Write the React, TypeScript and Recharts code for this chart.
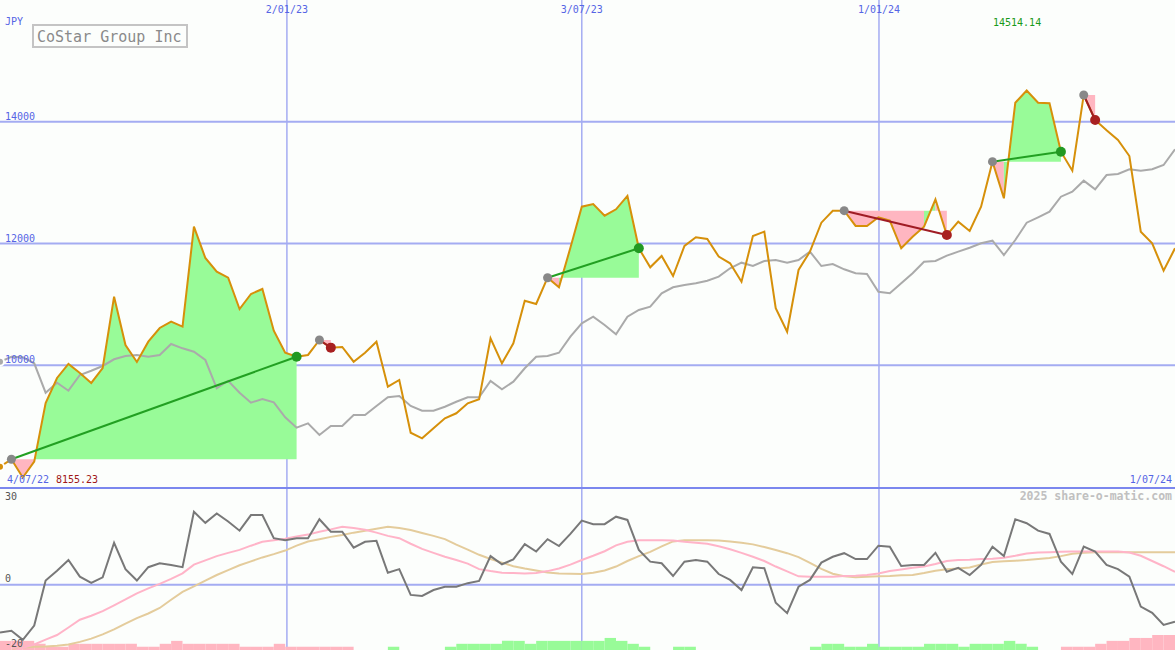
import React from "react";
import {
  ComposedChart,
  Line,
  Area,
  Bar,
  Cell,
  XAxis,
  YAxis,
  CartesianGrid,
  ReferenceLine,
  ReferenceDot,
} from "recharts";

// weekly closes, JPY
const price = [
  8333, 8455, 8155.23, 8416, 9380, 9791, 10021, 9873, 9709, 9955,
  11126, 10333, 10054, 10387, 10612, 10716, 10634, 12277, 11762, 11537,
  11439, 10924, 11171, 11253, 10568, 10206, 10140, 10169, 10415, 10289,
  10300, 10058, 10206, 10387, 9648, 9758, 8892, 8800, 8964, 9129,
  9211, 9375, 9441, 10443, 10032, 10361, 11060, 11006, 11438, 11281,
  11930, 12605, 12649, 12457, 12562, 12781, 11921, 11609, 11795, 11466,
  11959, 12102, 12075, 11786, 11675, 11373, 12124, 12195, 10936, 10551,
  11565, 11866, 12342, 12539, 12539, 12288, 12288, 12431, 12375, 11921,
  12112, 12276, 12726, 12140, 12358, 12205, 12605, 13344, 12743, 14313,
  14514.14, 14313, 14303, 13508, 13196, 14440, 14029, 13860, 13700, 13437,
  12194, 12003, 11553, 11921,
];

// moving average (grey)
const average = [
  10058, 10140, 10131, 10032, 9549, 9713, 9582, 9840, 9910, 9988,
  10098, 10152, 10168, 10140, 10168, 10349, 10278, 10222, 10086, 9621,
  9746, 9549, 9385, 9446, 9391, 9145, 8974, 9046, 8854, 9002,
  9002, 9183, 9183, 9331, 9474, 9495, 9331, 9253, 9253, 9319,
  9401, 9474, 9474, 9741, 9605, 9730, 9950, 10140, 10152, 10206,
  10469, 10689, 10797, 10661, 10508, 10797, 10908, 10962, 11182, 11281,
  11318, 11346, 11389, 11455, 11593, 11685, 11630, 11713, 11729, 11685,
  11729, 11866, 11630, 11663, 11576, 11511, 11499, 11208, 11182, 11346,
  11511, 11701, 11713, 11800, 11866, 11931, 12003, 12046, 11811, 12057,
  12342, 12430, 12522, 12769, 12851, 13032, 12890, 13125, 13142, 13219,
  13196, 13219, 13290, 13547,
];

// lower panel
const momentum = [
  -14.6, -14.1, -16.9, -12.5, 1.3, 4.3, 7.6, 2.5, 0.6, 2.3,
  12.9, 4.8, 1.3, 5.4, 6.6, 6.1, 5.4, 22.4, 19.0, 21.9,
  19.4, 16.6, 21.4, 21.4, 14.3, 13.7, 14.3, 14.3, 20.1, 16.3,
  16.3, 11.4, 13.2, 13.5, 3.7, 4.8, -3.1, -3.4, -1.6, -0.6,
  -0.6, 0.5, 1.2, 8.8, 6.3, 7.8, 12.5, 10.2, 14.0, 11.9,
  15.6, 19.7, 18.6, 18.6, 20.9, 19.9, 10.7, 7.1, 6.6, 2.7,
  7.1, 7.6, 7.1, 3.3, 1.5, -1.6, 5.4, 5.1, -5.5, -8.7,
  -0.6, 1.5, 6.8, 8.6, 9.7, 7.9, 7.9, 12.0, 11.7, 5.8,
  6.1, 6.1, 9.8, 4.0, 5.2, 3.0, 6.1, 11.7, 8.8, 20.1,
  18.9, 16.6, 15.6, 7.1, 3.3, 11.7, 10.2, 6.1, 4.8, 2.5,
  -6.7, -8.6, -12.3, -11.3,
];

const fastSignal = [
  -22, -20.5, -19.3, -18.3, -16.8, -15.4, -13.1, -10.7, -9.5, -8.1,
  -6.3, -4.5, -2.6, -1.1, 0.3, 1.8, 3.5, 6.2, 7.5, 8.8,
  9.8, 10.7, 12.0, 13.2, 13.7, 14.1, 14.8, 15.4, 16.3, 17.0,
  17.8, 17.4, 16.9, 16.0, 15.0, 14.3, 12.6, 11.0, 9.8, 8.6,
  7.6, 6.5, 4.8, 4.2, 3.7, 3.6, 3.5, 3.6, 4.2, 5.0,
  6.2, 7.6, 8.9, 10.3, 12.1, 13.2, 13.7, 13.7, 13.7, 13.6,
  13.2, 12.9, 12.6, 11.8, 10.9, 9.8, 8.6, 7.3, 5.6, 4.1,
  2.6, 2.5, 2.5, 2.5, 2.7, 2.8, 3.0, 3.5, 4.2, 4.7,
  5.2, 5.6, 6.4, 7.3, 7.6, 7.7, 7.9, 8.0, 8.3, 8.9,
  9.6, 9.9, 10.0, 10.1, 10.2, 10.2, 10.2, 10.2, 10.2, 9.9,
  8.9, 7.3, 5.7, 4.0,
];

const slowSignal = [
  -21, -20.3, -19.2, -19.0, -18.9, -18.7, -18.3, -17.5, -16.5, -15.2,
  -13.7, -11.9, -10.2, -8.8, -7.1, -4.6, -2.2, -0.5, 1.3, 3.0,
  4.5, 6.0, 7.2, 8.4, 9.4, 10.5, 12.0, 13.3, 14.0, 14.7,
  15.3, 16.0, 16.6, 17.2, 17.8, 17.4, 16.8, 15.9, 15.0, 14.0,
  12.3, 10.8, 9.2, 7.9, 6.8, 5.7, 5.0, 4.4, 3.8, 3.5,
  3.4, 3.3, 3.7, 4.4, 5.6, 7.3, 8.8, 10.1, 11.8, 13.3,
  13.7, 13.7, 13.7, 13.6, 13.3, 12.9, 12.4, 11.6, 10.7, 9.7,
  8.5, 6.7, 4.9, 3.4, 2.6, 2.3, 2.5, 2.6, 2.7, 2.9,
  3.0, 3.6, 4.3, 4.8, 5.0, 5.3, 6.2, 7.0, 7.2, 7.4,
  7.6, 7.9, 8.2, 8.8, 9.5, 9.8, 10.0, 10.0, 10.0, 10.0,
  10.0, 10.0, 10.0, 10.0,
];

// histogram along the bottom: + green, - pink, 0 none
const histogram = [
  -2.8, -2.8, -2.8, -1.9, -1, -1, -1.9, -1.9, -1.9, -1.9,
  -1.9, -1.9, -1, -1, -1.9, -2.8, -1.9, -1.9, -1.9, -1.9,
  -1.9, -1, -1, -1, -1.9, -1, -1, -1, -1, -1,
  -1, 0, 0, 0, 1, 0, 0, 0, 0, 1,
  1.9, 1.9, 1.9, 1.9, 2.8, 2.8, 1.9, 2.8, 2.8, 2.8,
  2.8, 2.8, 2.8, 3.7, 2.8, 1.9, 1, 0, 0, 1,
  1, 0, 0, 0, 0, 0, 0, 0, 0, 0,
  0, 1, 1.9, 1.9, 1, 1, 1.9, 1, 1, 1,
  1, 1.9, 1.9, 1.9, 1, 1.9, 1.9, 1.9, 2.8, 1.9,
  1, 0, 0, -1, -1, -1, -1.9, -2.8, -2.8, -3.7,
  -3.7, -4.6, -4.6, -4.6,
];

// signals: entry week -> exit week
const trades = [
  { from: 1, to: 26 },
  { from: 28, to: 29 },
  { from: 48, to: 56 },
  { from: 74, to: 83 },
  { from: 87, to: 93 },
  { from: 95, to: 96 },
];

const dateTicks = [25.15, 51, 77.05];
const dateLabels = ["2/01/23", "3/07/23", "1/01/24"];
const priceTicks = [10000, 12000, 14000];
const signalTicks = [0];
const firstDate = "4/07/22";
const lastDate = "1/07/24";

const W = 1175;
const LAST = price.length - 1;
const MONO = "'DejaVu Sans Mono', monospace";
const BG = "#fcfefc";
const GRID = "#a4acf2";
const BLUE = "#5565e5";
const GOOD = "#98fb98";
const BAD = "#ffb6c1";
const noMargin = { top: 0, right: 0, bottom: 0, left: 0 };

const rows: any[] = price.map((p, i) => ({
  i,
  bx: i + 0.5,
  price: p,
  avg: average[i],
  mom: momentum[i],
  fast: fastSignal[i],
  slow: slowSignal[i],
  hist: histogram[i] ? [-20, -20 + Math.abs(histogram[i])] : null,
}));

// split each trade into green / pink runs
const fills: { key: string; color: string }[] = [];
trades.forEach((t) => {
  const entry = price[t.from];
  let start = t.from;
  for (let c = t.from; c < t.to; c++) {
    const up = price[c + 1] >= entry;
    const nextUp = c + 1 < t.to ? price[c + 2] >= entry : null;
    if (nextUp !== up) {
      const key = `fill${fills.length}`;
      for (let k = start; k <= c + 1; k++) rows[k][key] = [entry, price[k]];
      fills.push({ key, color: up ? GOOD : BAD });
      start = c + 1;
    }
  }
});

const maxPrice = Math.max(...price);
const minPrice = Math.min(...price);

const DateTick = (props: any) => (
  <text
    x={props.x}
    y={13}
    textAnchor="middle"
    fill={BLUE}
    fontSize={10}
    fontFamily={MONO}
  >
    {dateLabels[props.index]}
  </text>
);

const PriceTick = (props: any) => (
  <text x={5} y={props.y - 2} fill={BLUE} fontSize={10} fontFamily={MONO}>
    {props.payload.value}
  </text>
);

export default function App() {
  return (
    <div
      style={{
        position: "absolute",
        left: 0,
        top: 0,
        width: W,
        height: 650,
        background: BG,
        overflow: "hidden",
      }}
    >
      <div style={{ position: "absolute", left: 0, top: 0 }}>
        <ComposedChart width={W} height={487} data={rows} margin={noMargin}>
          <CartesianGrid
            horizontal
            vertical={false}
            horizontalValues={priceTicks}
            syncWithTicks
            stroke={GRID}
            strokeWidth={2}
          />
          <CartesianGrid
            horizontal={false}
            vertical
            verticalValues={dateTicks}
            syncWithTicks
            stroke={GRID}
            strokeWidth={1.5}
          />
          <XAxis
            dataKey="i"
            type="number"
            domain={[0, LAST]}
            ticks={dateTicks}
            interval={0}
            orientation="top"
            mirror
            axisLine={false}
            tickLine={false}
            tick={<DateTick />}
            allowDataOverflow
          />
          <YAxis
            type="number"
            domain={[8000, 16000]}
            ticks={priceTicks}
            interval={0}
            mirror
            axisLine={false}
            tickLine={false}
            tick={<PriceTick />}
            allowDataOverflow
          />
          {fills.map((f) => (
            <Area
              key={f.key}
              dataKey={f.key}
              type="linear"
              fill={f.color}
              fillOpacity={1}
              stroke="none"
              isAnimationActive={false}
            />
          ))}
          <Line
            dataKey="avg"
            type="linear"
            stroke="#aaaaaa"
            strokeWidth={2}
            dot={false}
            isAnimationActive={false}
          />
          <Line
            dataKey="price"
            type="linear"
            stroke="#d6900a"
            strokeWidth={2}
            dot={false}
            isAnimationActive={false}
          />
          {trades.map((t) => {
            const win = price[t.to] > price[t.from];
            return (
              <ReferenceLine
                key={`seg${t.from}`}
                segment={[
                  { x: t.from, y: price[t.from] },
                  { x: t.to, y: price[t.to] },
                ]}
                stroke={win ? "#22a022" : "#a01c24"}
                strokeWidth={2}
              />
            );
          })}
          {trades.map((t) => (
            <ReferenceDot
              key={`in${t.from}`}
              x={t.from}
              y={price[t.from]}
              r={4.5}
              fill="#888888"
              stroke="none"
            />
          ))}
          {trades.map((t) => (
            <ReferenceDot
              key={`out${t.to}`}
              x={t.to}
              y={price[t.to]}
              r={5}
              fill={price[t.to] > price[t.from] ? "#229922" : "#a82020"}
              stroke="none"
            />
          ))}
        </ComposedChart>
      </div>

      <div style={{ position: "absolute", left: 0, top: 487 }}>
        <ComposedChart width={W} height={163} data={rows} margin={noMargin}>
          <CartesianGrid
            xAxisId="line"
            horizontal
            vertical={false}
            horizontalValues={signalTicks}
            syncWithTicks
            stroke={GRID}
            strokeWidth={2}
          />
          <CartesianGrid
            xAxisId="line"
            horizontal={false}
            vertical
            verticalValues={dateTicks}
            syncWithTicks
            stroke={GRID}
            strokeWidth={1.5}
          />
          <XAxis
            xAxisId="line"
            dataKey="i"
            type="number"
            domain={[0, LAST]}
            ticks={dateTicks}
            interval={0}
            hide
            allowDataOverflow
          />
          <XAxis
            xAxisId="bar"
            dataKey="bx"
            type="number"
            domain={[0, LAST]}
            hide
            allowDataOverflow
          />
          <YAxis type="number" domain={[-20, 30]} ticks={signalTicks} hide allowDataOverflow />
          <ReferenceLine xAxisId="line" y={30} stroke="#7b87ee" strokeWidth={4} />
          <Bar xAxisId="bar" dataKey="hist" barSize={11.4} isAnimationActive={false}>
            {rows.map((r) => (
              <Cell key={r.i} fill={histogram[r.i] >= 0 ? GOOD : BAD} />
            ))}
          </Bar>
          <Line
            xAxisId="line"
            dataKey="slow"
            type="linear"
            stroke="#e4cc9c"
            strokeWidth={2}
            dot={false}
            isAnimationActive={false}
          />
          <Line
            xAxisId="line"
            dataKey="fast"
            type="linear"
            stroke="#ffb4c8"
            strokeWidth={2}
            dot={false}
            isAnimationActive={false}
          />
          <Line
            xAxisId="line"
            dataKey="mom"
            type="linear"
            stroke="#787878"
            strokeWidth={2}
            dot={false}
            isAnimationActive={false}
          />
        </ComposedChart>
      </div>

      {/* captions */}
      <svg
        width={W}
        height={650}
        style={{ position: "absolute", left: 0, top: 0, pointerEvents: "none" }}
        fontFamily={MONO}
      >
        <text x={5} y={25} fill={BLUE} fontSize={10}>JPY</text>
        <rect x={33} y={25} width={154} height={22} fill="none" stroke="#c4c4c4" strokeWidth={2} />
        <text x={37} y={42} fill="#8a8a8a" fontSize={15}>CoStar Group Inc</text>
        <text x={993} y={26} fill="#1a9a1a" fontSize={10}>{maxPrice.toFixed(2)}</text>
        <text x={7} y={483} fill={BLUE} fontSize={10}>{firstDate}</text>
        <text x={56} y={483} fill="#a01818" fontSize={10}>{minPrice.toFixed(2)}</text>
        <text x={1172} y={483} fill={BLUE} fontSize={10} textAnchor="end">{lastDate}</text>
        <text x={1172} y={500} fill="#c0c0c0" fontSize={11.5} fontWeight="bold" textAnchor="end">
          2025 share-o-matic.com
        </text>
        <text x={5} y={500} fill="#555555" fontSize={10}>30</text>
        <text x={5} y={582} fill="#555555" fontSize={10}>0</text>
        <text x={5} y={647} fill="#555555" fontSize={10}>-20</text>
      </svg>
    </div>
  );
}
